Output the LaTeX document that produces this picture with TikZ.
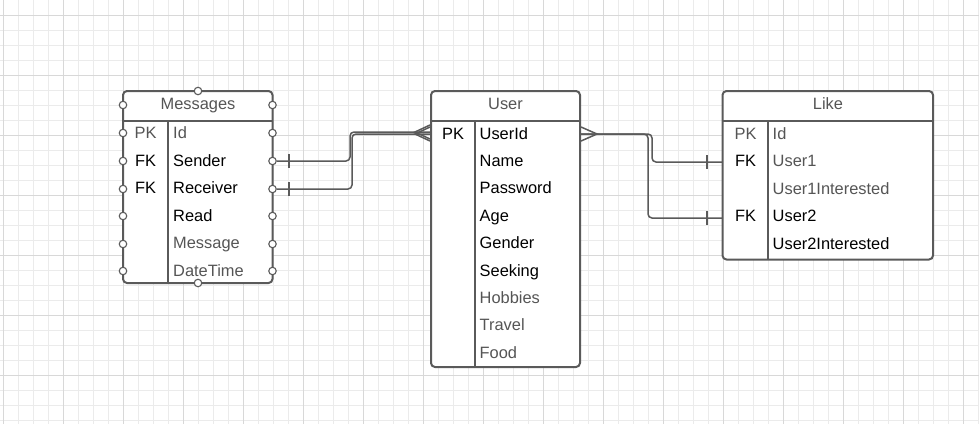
\documentclass[tikz,border=0pt]{standalone}
\usepackage{fontspec}
\setmainfont{Liberation Sans}
\definecolor{gridminor}{HTML}{EBEBEB}
\definecolor{gridmajor}{HTML}{D8D8D8}
\definecolor{strk}{HTML}{5A5A5A}
\definecolor{txtgray}{HTML}{555555}
\tikzset{
  tbl/.style={draw=strk, line width=2pt, rounded corners=4pt, fill=white, outer sep=0pt, inner sep=0pt, anchor=north west},
  sepline/.style={draw=strk, line width=2pt},
  txt/.style={inner sep=0pt, text height=11.7pt, text depth=0pt, font=\fontsize{16.4}{19}\selectfont},
  fld/.style={txt, anchor=west},
  key/.style={txt, anchor=center},
  gr/.style={text=txtgray},
  bk/.style={text=black},
  conn/.style={draw=strk, line width=1.5pt, rounded corners=4pt},
  tickmark/.style={draw=strk, line width=1.5pt},
  port/.style={circle, draw=strk, fill=white, line width=1.1pt, minimum size=7.5pt, inner sep=0pt},
}
\begin{document}
\begin{tikzpicture}[x=1pt,y=-1pt]
\useasboundingbox (0,0) rectangle (979,424);
\fill[white] (0,0) rectangle (979,424);
% grid
\foreach \i in {0,...,65} {
  \pgfmathtruncatemacro{\gx}{3+15*\i}
  \draw[gridminor, line width=1pt] (\gx,0) -- (\gx,424);
}
\foreach \i in {1,...,28} {
  \pgfmathtruncatemacro{\gy}{15*\i}
  \draw[gridminor, line width=1pt] (0,\gy) -- (979,\gy);
}
\foreach \i in {0,...,16} {
  \pgfmathtruncatemacro{\gx}{3+60*\i}
  \draw[gridmajor, line width=1pt] (\gx,0) -- (\gx,424);
}
\foreach \i in {0,...,6} {
  \pgfmathtruncatemacro{\gy}{15+60*\i}
  \draw[gridmajor, line width=1pt] (0,\gy) -- (979,\gy);
}

% ---------- Messages ----------
\node[tbl, minimum width=149.5pt, minimum height=192pt] (msg) at (123,91) {};
\draw[sepline] (123,121) -- (272.5,121);
\draw[sepline] (168,121) -- (168,283);
\node[key, gr] (msgH) at (198,104) {Messages};
\node[key, gr] (msgK1) at (145.5,133) {PK};
\node[key, bk] (msgK2) at (145.5,160.5) {FK};
\node[key, bk] (msgK3) at (145.5,188) {FK};
\node[fld, gr] (msgF1) at (173,133) {Id};
\node[fld, bk] (msgF2) at (173,160.5) {Sender};
\node[fld, bk] (msgF3) at (173,188) {Receiver};
\node[fld, bk] (msgF4) at (173,215.5) {Read};
\node[fld, gr] (msgF5) at (173,243) {Message};
\node[fld, gr] (msgF6) at (173,270.5) {DateTime};
% ports
\foreach \py [count=\k] in {105,133,161,189,216,244,271} {
  \node[port] (pL\k) at (123,\py) {};
  \node[port] (pR\k) at (272.5,\py) {};
}
\node[port] (pTop) at (198,91) {};
\node[port] (pBot) at (198,283) {};

% ---------- User ----------
\node[tbl, minimum width=149pt, minimum height=276pt] (usr) at (431,91) {};
\draw[sepline] (431,121) -- (580,121);
\draw[sepline] (475,121) -- (475,367);
\node[key, gr] (usrH) at (505.5,104) {User};
\node[key, bk] (usrK1) at (453,133.3) {PK};
\node[fld, bk] (usrF1) at (479.5,133.3) {UserId};
\node[fld, bk] (usrF2) at (479.5,160.7) {Name};
\node[fld, bk] (usrF3) at (479.5,188.1) {Password};
\node[fld, bk] (usrF4) at (479.5,215.5) {Age};
\node[fld, bk] (usrF5) at (479.5,242.9) {Gender};
\node[fld, bk] (usrF6) at (479.5,270.3) {Seeking};
\node[fld, gr] (usrF7) at (479.5,297.7) {Hobbies};
\node[fld, gr] (usrF8) at (479.5,325.1) {Travel};
\node[fld, gr] (usrF9) at (479.5,352.5) {Food};

% ---------- Like ----------
\node[tbl, minimum width=210.5pt, minimum height=168.5pt] (lk) at (722.5,91) {};
\draw[sepline] (722.5,121) -- (933,121);
\draw[sepline] (768,121) -- (768,259.5);
\node[key, gr] (lkH) at (828,104) {Like};
\node[key, gr] (lkK1) at (745.5,133.3) {PK};
\node[key, bk] (lkK2) at (745.5,160.8) {FK};
\node[key, bk] (lkK4) at (745.5,215.8) {FK};
\node[fld, gr] (lkF1) at (772.5,133.3) {Id};
\node[fld, gr] (lkF2) at (772.5,160.8) {User1};
\node[fld, gr] (lkF3) at (772.5,188.3) {User1Interested};
\node[fld, bk] (lkF4) at (772.5,215.8) {User2};
\node[fld, bk] (lkF5) at (772.5,243.3) {User2Interested};

% ---------- connectors ----------
\coordinate (jS1) at (350,161);
\coordinate (jS2) at (350,132);
\coordinate (uS) at (430,132);
\coordinate (jR1) at (352,189);
\coordinate (jR2) at (352,134);
\coordinate (uR) at (430,134);
\draw[conn] (pR3.east) -- (jS1) -- (jS2) -- (uS);
\draw[conn] (pR4.east) -- (jR1) -- (jR2) -- (uR);
\draw[tickmark] (289,154) -- (289,168);
\draw[tickmark] (289,182) -- (289,196);
% crow's feet at User left
\coordinate (cfA) at (415,132);
\coordinate (cfB) at (415,134);
\draw[tickmark] (430,125) -- (cfA) -- (430,139);
\draw[tickmark] (430,127) -- (cfB) -- (430,141);

% User right -> Like
\coordinate (uOut) at (581,134);
\coordinate (jA1) at (652,134);
\coordinate (jA2) at (652,162);
\coordinate (lkIn1) at (722,162);
\coordinate (jB1) at (648,134);
\coordinate (jB2) at (648,218);
\coordinate (lkIn2) at (722,218);
\draw[conn] (uOut) -- (jA1) -- (jA2) -- (lkIn1);
\draw[conn] (uOut) -- (jB1) -- (jB2) -- (lkIn2);
\draw[tickmark] (581,127) -- (597,134) -- (581,141);
\draw[tickmark] (707,155) -- (707,169);
\draw[tickmark] (707,211) -- (707,225);
\end{tikzpicture}
\end{document}
